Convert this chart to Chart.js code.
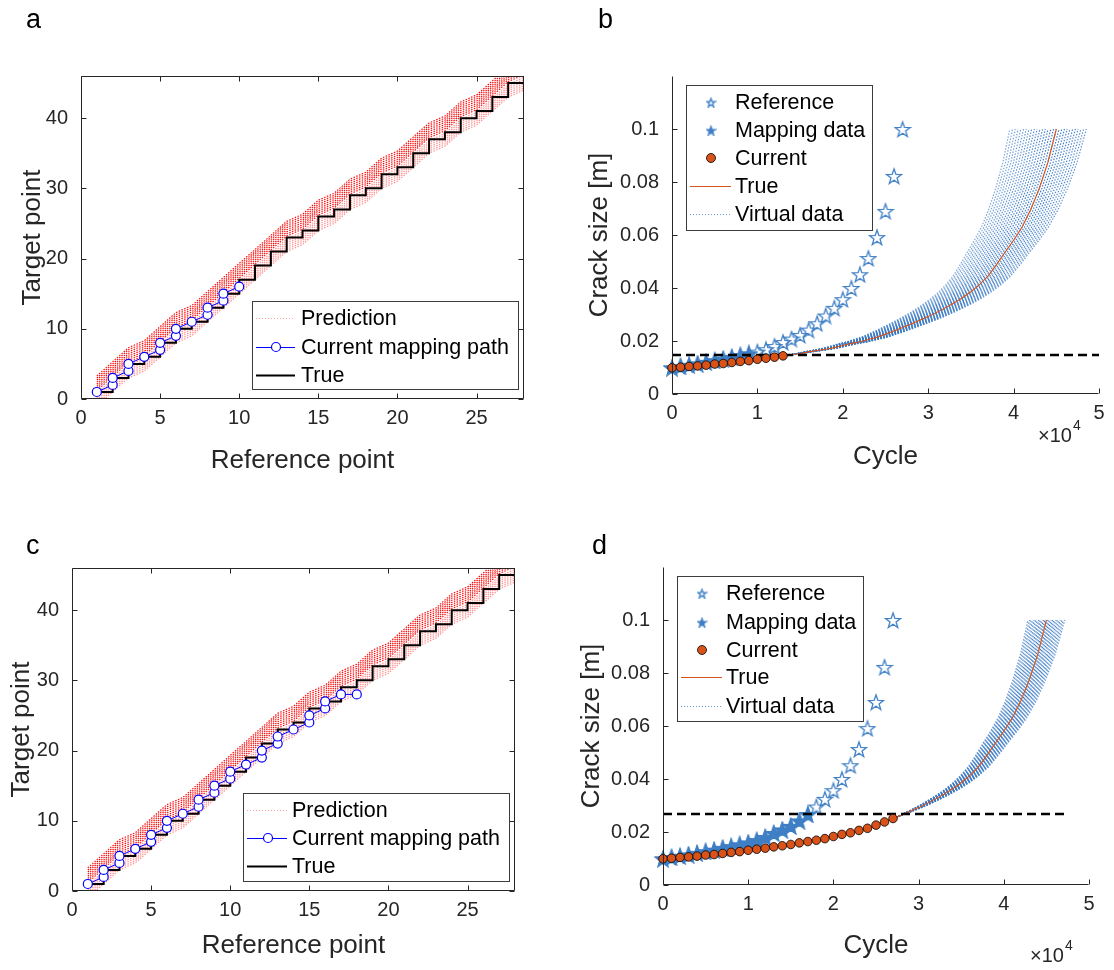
<!DOCTYPE html>
<html lang="en">
<head>
<meta charset="UTF-8">
<title>Crack growth mapping</title>
<script src="https://cdn.jsdelivr.net/npm/chart.js"></script>
<style>
  body { margin: 0; background: #fff; }
  #page { position: relative; width: 1114px; height: 970px; overflow: hidden; font-family: Arial, "Liberation Sans", sans-serif; }
  canvas { position: absolute; }
  .tag { position: absolute; font-size: 27px; color: #000; line-height: 31px; }
</style>
</head>
<body>
<div id="page">
  <canvas id="chartA" width="557" height="485" style="left:0;top:0"></canvas>
  <canvas id="chartB" width="557" height="485" style="left:557px;top:0"></canvas>
  <canvas id="chartC" width="557" height="485" style="left:0;top:485px"></canvas>
  <canvas id="chartD" width="557" height="485" style="left:557px;top:485px"></canvas>
  <div class="tag" style="left:26px;top:4px">a</div>
  <div class="tag" style="left:598px;top:4px">b</div>
  <div class="tag" style="left:26px;top:530px">c</div>
  <div class="tag" style="left:592px;top:530px">d</div>
</div>
<script>
// reference specimen, one point every 1000 cycles
const refCycles = [0, 1000, 2000, 3000, 4000, 5000, 6000, 7000, 8000, 9000, 10000, 11000, 12000, 13000,
  14000, 15000, 16000, 17000, 18000, 19000, 20000, 21000, 22000, 23000, 24000, 25000, 26000, 27000];
const refCrack = [0.0100, 0.0105, 0.0110, 0.0115, 0.0121, 0.0127, 0.0133, 0.0140, 0.0146, 0.0153, 0.0160,
  0.0169, 0.0181, 0.0196, 0.0209, 0.0223, 0.0243, 0.0267, 0.0296, 0.0325, 0.0358, 0.0400, 0.0452, 0.0513,
  0.0592, 0.0691, 0.0823, 0.1000];

// target (true) specimen
const trueCycles = [0, 1000, 2000, 3000, 4000, 5000, 6000, 7000, 8000, 9000, 10000, 11000, 12000, 13000,
  14000, 15000, 16000, 17000, 18000, 19000, 20000, 21000, 22000, 23000, 24000, 25000, 26000, 27000, 28000,
  29000, 30000, 31000, 32000, 33000, 34000, 35000, 36000, 37000, 38000, 39000, 40000, 41000, 42000, 43000,
  44000, 45000];
const trueCrack = [0.0099, 0.0101, 0.0104, 0.0106, 0.0109, 0.0113, 0.0115, 0.0119, 0.0123, 0.0126, 0.0131,
  0.0135, 0.0139, 0.0144, 0.0148, 0.0153, 0.0159, 0.0164, 0.0169, 0.0175, 0.0183, 0.0191, 0.0197, 0.0206,
  0.0214, 0.0226, 0.0238, 0.0251, 0.0264, 0.0278, 0.0292, 0.0308, 0.0325, 0.0343, 0.0363, 0.0386, 0.0413,
  0.0445, 0.0488, 0.0535, 0.0580, 0.0630, 0.0695, 0.0775, 0.0872, 0.1000];

// true mapping: target point for each reference point 1..28
const trueTarget = [1, 3, 5, 6, 8, 10, 11, 13, 15, 17, 19, 21, 23, 24, 26, 27, 29, 30, 32, 33, 35, 37, 38,
  40, 41, 43, 45, 46];

// current mapping paths (reference point, target point)
const pathRefA = [1, 2, 2, 3, 3, 4, 5, 5, 6, 6, 7, 8, 8, 9, 9, 10];
const pathTgtA = [1, 2, 3, 4, 5, 6, 7, 8, 9, 10, 11, 12, 13, 14, 15, 16];
const pathRefC = [1, 2, 2, 3, 3, 4, 5, 5, 6, 6, 7, 8, 8, 9, 9, 10, 10, 11, 12, 12, 13, 13, 14, 15, 15, 16, 16, 17, 18];
const pathTgtC = [1, 2, 3, 4, 5, 6, 7, 8, 9, 10, 11, 12, 13, 14, 15, 16, 17, 18, 19, 20, 21, 22, 23, 24, 25, 26, 27, 28, 28];

// prediction spread around the true path (target points)
const predOffsets = [-2.0, -1.7, -1.4, -1.1, -0.8, -0.5, -0.2, 0.2, 0.5, 0.8, 1.1, 1.4, 1.7, 2.0, 2.3];

// current measurements and thresholds
const nCurrentB = 14;
const nCurrentD = 28;
const thresholdB = 0.0147;
const thresholdD = 0.0268;
const thresholdEndB = 50000;
const thresholdEndD = 47200;

// virtual data: time scale of each virtual curve after the last current point
const virtualScaleB = [0.83, 0.84, 0.85, 0.86, 0.87, 0.88, 0.89, 0.90, 0.91, 0.92, 0.93, 0.94, 0.95, 0.96,
  0.97, 0.98, 0.99, 1.00, 1.01, 1.02, 1.03, 1.04, 1.05, 1.06, 1.07, 1.08, 1.09, 1.10, 1.11];
const virtualScaleD = [0.88, 0.89, 0.90, 0.91, 0.92, 0.93, 0.94, 0.95, 0.96, 0.97, 0.98, 0.99, 1.00, 1.01,
  1.02, 1.03, 1.04, 1.05, 1.06, 1.07, 1.08, 1.09, 1.10, 1.11, 1.12];

// tick labels
const refTicks = [0, 5, 10, 15, 20, 25];
const tgtTicks = [0, 10, 20, 30, 40];
const cycleTicks = [0, 1, 2, 3, 4, 5];   // x 10^4
const crackTicks = [0, 0.02, 0.04, 0.06, 0.08, 0.1];

const FONT = 'Arial, "Liberation Sans", sans-serif';
const AX = '#262626';
const ORANGE = '#D95319';
const BLUE = '#3f7fc5';

function makeStar(size, filled) {
  const c = document.createElement('canvas');
  c.width = c.height = size;
  const g = c.getContext('2d');
  const R = size / 2 - 1, r = R * 0.4, m = size / 2;
  g.beginPath();
  for (let k = 0; k < 10; k++) {
    const a = -Math.PI / 2 + k * Math.PI / 5;
    const rr = k % 2 ? r : R;
    g.lineTo(m + rr * Math.cos(a), m + 1 + rr * Math.sin(a));
  }
  g.closePath();
  if (filled) { g.fillStyle = BLUE; g.fill(); }
  g.strokeStyle = BLUE;
  g.lineWidth = 1.3;
  g.stroke();
  return c;
}
const starHollow = makeStar(18, false);
const starFilled = makeStar(18, true);
const starHollowSm = makeStar(11, false);
const starFilledSm = makeStar(11, true);

// axes box + inward ticks + exponent label
const frame = {
  id: 'frame',
  afterDatasetsDraw(chart, args, o) {
    const { ctx, chartArea: ca, scales } = chart;
    const L = Math.round(ca.left) + 0.5, R = Math.round(ca.right) - 0.5;
    const T = Math.round(ca.top) + 0.5, B = Math.round(ca.bottom) - 0.5;
    const len = 5;
    ctx.save();
    ctx.strokeStyle = AX;
    ctx.lineWidth = 1;
    ctx.beginPath();
    ctx.moveTo(L, T); ctx.lineTo(L, B); ctx.lineTo(R, B);
    if (o.box) { ctx.lineTo(R, T); ctx.lineTo(L, T); }
    scales.x.ticks.forEach(t => {
      const px = Math.round(scales.x.getPixelForValue(t.value)) + 0.5;
      ctx.moveTo(px, B); ctx.lineTo(px, B - len);
      if (o.box) { ctx.moveTo(px, T); ctx.lineTo(px, T + len); }
    });
    scales.y.ticks.forEach(t => {
      const py = Math.round(scales.y.getPixelForValue(t.value)) + 0.5;
      ctx.moveTo(L, py); ctx.lineTo(L + len, py);
      if (o.box) { ctx.moveTo(R, py); ctx.lineTo(R - len, py); }
    });
    ctx.stroke();
    if (o.exp) {
      ctx.fillStyle = AX;
      ctx.textBaseline = 'middle';
      ctx.font = '20px ' + FONT;
      ctx.fillText('\u00d710', o.exp.x, o.exp.y);
      const w = ctx.measureText('\u00d710').width;
      ctx.font = '14px ' + FONT;
      ctx.fillText('4', o.exp.x + w + 1, o.exp.y - 10);
    }
    ctx.restore();
  }
};

function drawMarker(ctx, kind, x, y) {
  if (kind === 'starHollow' || kind === 'starFilled') {
    const img = kind === 'starHollow' ? starHollowSm : starFilledSm;
    ctx.drawImage(img, x - img.width / 2, y - img.height / 2);
  } else if (kind === 'dot') {
    ctx.beginPath(); ctx.arc(x, y, 4.5, 0, Math.PI * 2);
    ctx.fillStyle = ORANGE; ctx.fill();
    ctx.strokeStyle = '#000'; ctx.lineWidth = 0.8; ctx.setLineDash([]); ctx.stroke();
  } else if (kind === 'circle') {
    ctx.beginPath(); ctx.arc(x, y, 4.5, 0, Math.PI * 2);
    ctx.fillStyle = '#fff'; ctx.fill();
    ctx.strokeStyle = '#0000ff'; ctx.lineWidth = 1.2; ctx.setLineDash([]); ctx.stroke();
  }
}

// legend box drawn inside the axes
const boxLegend = {
  id: 'boxLegend',
  afterDatasetsDraw(chart, args, o) {
    if (!o.items) return;
    const ctx = chart.ctx;
    ctx.save();
    ctx.fillStyle = '#fff';
    ctx.fillRect(o.x, o.y, o.w, o.h);
    ctx.strokeStyle = '#3c3c3c';
    ctx.lineWidth = 1;
    ctx.strokeRect(o.x + 0.5, o.y + 0.5, o.w, o.h);
    o.items.forEach((it, k) => {
      const y = o.rowY[k];
      if (it.line) {
        ctx.beginPath();
        ctx.strokeStyle = it.line;
        ctx.lineWidth = it.lw || 1;
        ctx.setLineDash(it.dash || []);
        ctx.moveTo(o.lineX0, y + 0.5); ctx.lineTo(o.lineX1, y + 0.5);
        ctx.stroke();
        ctx.setLineDash([]);
      }
      if (it.marker) drawMarker(ctx, it.marker, o.symX, y);
      ctx.fillStyle = '#000';
      ctx.font = '21.5px ' + FONT;
      ctx.textBaseline = 'middle';
      ctx.fillText(it.text, o.textX, y + 1);
    });
    ctx.restore();
  }
};

Chart.register(frame, boxLegend);

function options(cfg) {
  return {
    responsive: false,
    animation: false,
    events: [],
    layout: { padding: { left: 0, top: cfg.top, right: cfg.right, bottom: 0 } },
    plugins: {
      legend: { display: false },
      tooltip: { enabled: false },
      frame: { box: cfg.box, exp: cfg.exp },
      boxLegend: cfg.legend
    },
    scales: {
      x: {
        type: 'linear', min: cfg.xMin, max: cfg.xMax,
        afterFit: s => { s.height = 485 - cfg.bottom; },
        afterBuildTicks: s => { s.ticks = cfg.xTicks.map(v => ({ value: v })); },
        grid: { display: false, drawTicks: false },
        border: { display: false },
        ticks: { padding: 7, color: AX, font: { family: FONT, size: 20 }, maxRotation: 0, autoSkip: false, callback: cfg.xFmt },
        title: { display: true, text: cfg.xTitle, color: AX, font: { family: FONT, size: 26 }, padding: { top: 0, bottom: cfg.xTitlePad } }
      },
      y: {
        type: 'linear', min: cfg.yMin, max: cfg.yMax,
        afterFit: s => { s.width = cfg.left; },
        afterBuildTicks: s => { s.ticks = cfg.yTicks.map(v => ({ value: v })); },
        grid: { display: false, drawTicks: false },
        border: { display: false },
        ticks: { padding: 13, color: AX, font: { family: FONT, size: 20 }, autoSkip: false, callback: cfg.yFmt },
        title: { display: true, text: cfg.yTitle, color: AX, font: { family: FONT, size: 26 }, padding: { top: cfg.yTitlePad, bottom: 0 } }
      }
    }
  };
}

function pathDatasets(pathRef, pathTgt) {
  const ds = [];
  ds.push({
    data: pathRef.map((r, k) => ({ x: r, y: pathTgt[k] })),
    showLine: true, borderColor: '#0000ff', borderWidth: 1,
    pointRadius: 4.5, pointBackgroundColor: '#fff', pointBorderColor: '#0000ff', pointBorderWidth: 1.2, clip: false
  });
  ds.push({
    data: trueTarget.map((t, k) => ({ x: k + 1, y: t })),
    showLine: true, stepped: 'before', borderColor: '#000', borderWidth: 2, pointRadius: 0
  });
  predOffsets.forEach(off => ds.push({
    data: trueTarget.map((t, k) => ({ x: k + 1, y: t + off })),
    showLine: true, borderWidth: 1.2, borderDash: [1.5, 1.5], pointRadius: 0,
    borderColor: off > 0 ? 'rgba(255,0,0,0.95)' : 'rgba(255,40,40,0.5)'
  }));
  return ds;
}

function crackDatasets(nCur, thr, thrEnd, vScales, mapRef) {
  const ds = [];
  ds.push({
    data: trueCycles.slice(0, nCur).map((c, k) => ({ x: c, y: trueCrack[k] })),
    pointRadius: 4.3, pointBackgroundColor: ORANGE, pointBorderColor: '#000', pointBorderWidth: 0.8, clip: false
  });
  ds.push({
    data: [{ x: 0, y: thr }, { x: thrEnd, y: thr }],
    showLine: true, borderColor: '#000', borderWidth: 2.5, borderDash: [9, 5], pointRadius: 0
  });
  const used = [...new Set(mapRef)];
  ds.push({
    data: used.map(i => ({ x: refCycles[i - 1], y: refCrack[i - 1] })),
    pointStyle: starFilled, pointRadius: 7, clip: false
  });
  ds.push({
    data: refCycles.map((c, k) => ({ x: c, y: refCrack[k] })),
    pointStyle: starHollow, pointRadius: 7, clip: false
  });
  ds.push({
    data: trueCycles.map((c, k) => ({ x: c, y: trueCrack[k] })),
    showLine: true, borderColor: ORANGE, borderWidth: 1.1, pointRadius: 0
  });
  const start = nCur - 1;
  const c0 = trueCycles[start];
  vScales.forEach(s => ds.push({
    data: trueCycles.slice(start).map((c, k) => ({ x: c0 + (c - c0) * s, y: trueCrack[start + k] })),
    showLine: true, borderWidth: 1.2, borderDash: [1.5, 1.5], pointRadius: 0,
    borderColor: `rgba(55,120,195,${(1 - 2.2 * Math.abs(s - 1)).toFixed(2)})`
  }));
  return ds;
}

const pathLegend = (x, y, rows, l0, l1, sx, tx) => ({
  x: x, y: y, w: 266, h: 88, rowY: rows, lineX0: l0, lineX1: l1, symX: sx, textX: tx,
  items: [
    { text: 'Prediction', line: 'rgba(255,90,90,0.55)', dash: [1, 2] },
    { text: 'Current mapping path', line: '#0000ff', marker: 'circle' },
    { text: 'True', line: '#000', lw: 2 }
  ]
});
const crackLegend = (x, y, rows, l0, l1, sx, tx) => ({
  x: x, y: y, w: 186, h: 145, rowY: rows, lineX0: l0, lineX1: l1, symX: sx, textX: tx,
  items: [
    { text: 'Reference', marker: 'starHollow' },
    { text: 'Mapping data', marker: 'starFilled' },
    { text: 'Current', marker: 'dot' },
    { text: 'True', line: ORANGE },
    { text: 'Virtual data', line: 'rgba(63,127,197,0.8)', dash: [1, 2] }
  ]
});

const pathAxes = {
  xMin: 0, xMax: 28, yMin: 0, yMax: 46, xTicks: refTicks, yTicks: tgtTicks,
  xTitle: 'Reference point', yTitle: 'Target point', box: true
};
const crackAxes = {
  xMin: 0, xMax: 50000, yMin: 0, yMax: 0.12,
  xTicks: cycleTicks.map(v => v * 10000), yTicks: crackTicks,
  xFmt: v => String(v / 10000), yFmt: v => String(v),
  xTitle: 'Cycle', yTitle: 'Crack size [m]', box: false
};

new Chart(document.getElementById('chartA'), {
  type: 'scatter',
  data: { datasets: pathDatasets(pathRefA, pathTgtA) },
  options: options(Object.assign({}, pathAxes, {
    left: 81, right: 33, top: 76, bottom: 399, xTitlePad: 9, yTitlePad: 17,
    legend: pathLegend(252, 301, [318, 347, 375], 256, 295, 276, 301)
  }))
});

new Chart(document.getElementById('chartB'), {
  type: 'scatter',
  data: { datasets: crackDatasets(nCurrentB, thresholdB, thresholdEndB, virtualScaleB, pathRefA) },
  options: options(Object.assign({}, crackAxes, {
    left: 115, right: 15, top: 76, bottom: 394, xTitlePad: 13, yTitlePad: 27,
    exp: { x: 481, y: 436 },
    legend: crackLegend(129, 85, [102, 130, 158, 186, 214], 133, 174, 154, 178)
  }))
});

new Chart(document.getElementById('chartC'), {
  type: 'scatter',
  data: { datasets: pathDatasets(pathRefC, pathTgtC) },
  options: options(Object.assign({}, pathAxes, {
    left: 72, right: 42, top: 83, bottom: 406, xTitlePad: 9, yTitlePad: 6,
    legend: pathLegend(243, 308, [325, 353, 381], 247, 287, 268, 292)
  }))
});

new Chart(document.getElementById('chartD'), {
  type: 'scatter',
  data: { datasets: crackDatasets(nCurrentD, thresholdD, thresholdEndD, virtualScaleD, pathRefC) },
  options: options(Object.assign({}, crackAxes, {
    left: 106, right: 25, top: 82, bottom: 400, xTitlePad: 9, yTitlePad: 19,
    exp: { x: 473, y: 471 },
    legend: crackLegend(120, 91, [108, 137, 165, 192, 221], 124, 165, 145, 169)
  }))
});
</script>
</body>
</html>
